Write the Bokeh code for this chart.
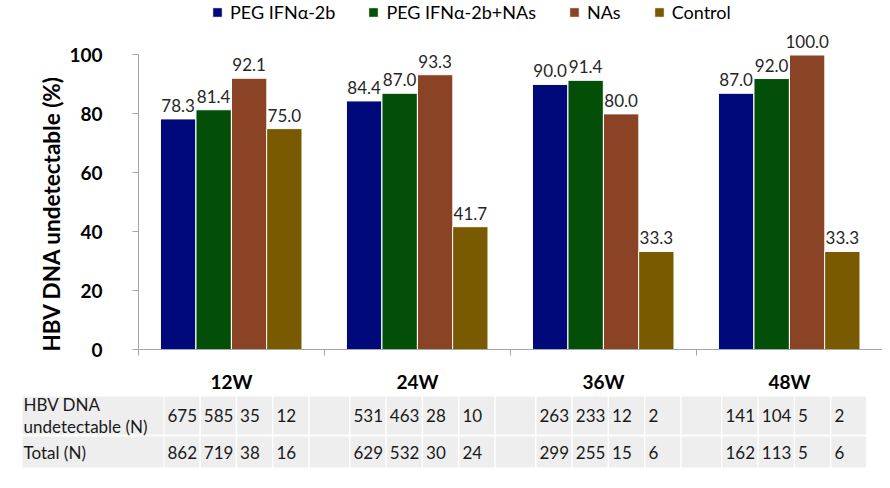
from bokeh.plotting import figure
from bokeh.models import Range1d, FixedTicker, ColumnDataSource, LabelSet, Title
from bokeh.core.properties import value
from bokeh.embed import file_html
from bokeh.resources import INLINE

# ---------------- data ----------------
weeks = ["12W", "24W", "36W", "48W"]
series = ["PEG IFNα-2b", "PEG IFNα-2b+NAs", "NAs", "Control"]
peg = [78.3, 84.4, 90.0, 87.0]
peg_nas = [81.4, 87.0, 91.4, 92.0]
nas = [92.1, 93.3, 80.0, 100.0]
control = [75.0, 41.7, 33.3, 33.3]
undetect_n = [[675, 585, 35, 12], [531, 463, 28, 10], [263, 233, 12, 2], [141, 104, 5, 2]]
total_n = [[862, 719, 38, 16], [629, 532, 30, 24], [299, 255, 15, 6], [162, 113, 5, 6]]
row_labels = ["HBV DNA\nundetectable (N)", "Total (N)"]
y_ticks = [0, 20, 40, 60, 80, 100]
y_title = "HBV DNA undetectable (%)"

# ---------------- style ----------------
colors = ["#00097A", "#034F07", "#8A4324", "#7A5A00"]
FONT = "Lato"
offsets = [-0.287, -0.096, 0.095, 0.284]
bar_w = 0.19
values = [peg, peg_nas, nas, control]

W = 882
FRAME_H = 352
p = figure(width=W, height=FRAME_H + 43, x_range=Range1d(0, len(weeks)), y_range=Range1d(0, 118.5),
           output_backend="svg", toolbar_location=None,
           min_border_left=138, min_border_right=0, min_border_top=0, min_border_bottom=43)
p.outline_line_color = None
p.grid.visible = False

centers = [i + 0.5 for i in range(len(weeks))]
for s, name in enumerate(series):
    src = ColumnDataSource(dict(x=[c + offsets[s] for c in centers], top=values[s],
                                lab=[f"{v:.1f}" for v in values[s]]))
    p.vbar(x="x", top="top", width=bar_w, source=src, fill_color=colors[s],
           line_color="white", line_width=1, legend_label=name)
    p.add_layout(LabelSet(x="x", y="top", text="lab", source=src, text_align="center",
                          text_baseline="bottom", y_offset=7, text_font=value(FONT),
                          text_font_size="17px", text_color="#262626"))

# y axis
ya = p.yaxis[0]
ya.ticker = FixedTicker(ticks=y_ticks)
ya.bounds = (0, 100)
ya.axis_line_color = "#a6a6a6"
ya.major_tick_line_color = "#a6a6a6"
ya.major_tick_out = 6
ya.major_tick_in = 0
ya.minor_tick_line_color = None
ya.major_label_text_font = FONT
ya.major_label_text_font_size = "19px"
ya.major_label_text_font_style = "bold"
ya.major_label_text_color = "#000000"
ya.major_label_standoff = 30

# y title, placed along the 0-100 axis span
p.add_layout(Title(text=y_title, align="left", offset=-2, standoff=0, vertical_align="top",
                   text_font=FONT, text_font_size="22.5px", text_font_style="bold",
                   text_color="#000000"), "left")

# x axis: labels at group centers, boundary ticks as minor ticks
xa = p.xaxis[0]
xa.ticker = FixedTicker(ticks=centers, minor_ticks=list(range(len(weeks) + 1)))
xa.major_label_overrides = {c: w for c, w in zip(centers, weeks)}
xa.axis_line_color = "#a6a6a6"
xa.major_tick_line_color = None
xa.minor_tick_line_color = "#a6a6a6"
xa.minor_tick_out = 6
xa.minor_tick_in = 0
xa.major_label_text_font = FONT
xa.major_label_text_font_size = "19px"
xa.major_label_text_font_style = "bold"
xa.major_label_text_color = "#000000"
xa.major_label_standoff = 14

lg = p.legend[0]
lg.orientation = "horizontal"
lg.location = (73, FRAME_H - 3 - 23)
lg.border_line_color = None
lg.background_fill_alpha = 0
lg.padding = 0
lg.margin = 0
lg.spacing = 32
lg.glyph_width = 12
lg.glyph_height = 12
lg.label_standoff = 7
lg.label_height = 18
lg.label_text_font = FONT
lg.label_text_font_size = "18px"
lg.label_text_color = "#000000"

# ---------------- table ----------------
TH = 80
t = figure(width=W, height=TH, x_range=Range1d(0, W), y_range=Range1d(TH, 0),
           output_backend="svg", toolbar_location=None, x_axis_type=None, y_axis_type=None,
           min_border=0)
t.outline_line_color = None
t.grid.visible = False

cell_bg = "#eeeeee"
row_top = [1, 41]
row_h = [38, 31]
label_x0, label_w = 22, 141
group_w = 186
group_x0 = 138 + 26
cell_step = 36.3
cell_w = 34.8

rx, ry, rw, rh = [], [], [], []
tx, ty, tt = [], [], []
for r in range(2):
    yc = row_top[r] + row_h[r] / 2
    rx.append(label_x0 + label_w / 2); ry.append(yc); rw.append(label_w); rh.append(row_h[r])
    data = undetect_n if r == 0 else total_n
    for g in range(len(weeks)):
        gx = group_x0 + g * group_w
        for k in range(4):
            cx = gx + k * cell_step
            rx.append(cx + cell_w / 2); ry.append(yc); rw.append(cell_w); rh.append(row_h[r])
            tx.append(cx + 3); ty.append(yc); tt.append(str(data[g][k]))
        if g < len(weeks) - 1:
            bx0 = gx + 4 * cell_step
            bx1 = group_x0 + (g + 1) * group_w - 1.5
            rx.append((bx0 + bx1) / 2); ry.append(yc); rw.append(bx1 - bx0); rh.append(row_h[r])

t.rect(x=rx, y=ry, width=rw, height=rh, fill_color=cell_bg, line_color=None)
t.text(x=tx, y=ty, text=tt, text_align="left", text_baseline="middle",
       text_font=value(FONT), text_font_size="17px", text_color="#1a1a1a")
t.text(x=[label_x0 + 1] * 2, y=[row_top[r] + row_h[r] / 2 for r in range(2)], text=row_labels,
       text_align="left", text_baseline="middle", text_line_height=1.05,
       text_font=value(FONT), text_font_size="17px", text_color="#1a1a1a")

open("out.html", "w").write(file_html([p, t], INLINE))
